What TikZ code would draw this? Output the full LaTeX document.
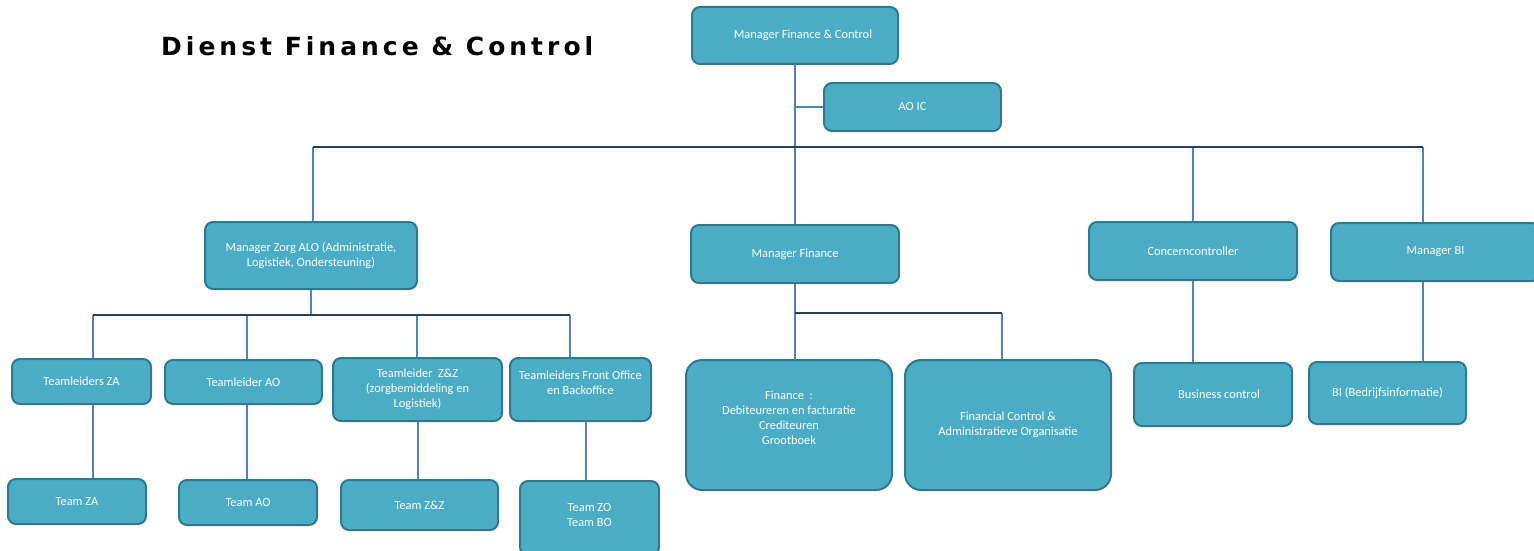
\documentclass[tikz,border=0pt]{standalone}
\usepackage{fontspec}
\setmainfont{Carlito}
\newfontfamily\titlefont[LetterSpace=16]{DejaVu Sans}
\definecolor{boxfill}{HTML}{4BACC6}
\definecolor{boxline}{HTML}{31798D}
\definecolor{vline}{HTML}{4F81BD}
\definecolor{hline}{HTML}{243F60}
\begin{document}
\begin{tikzpicture}[x=1pt,y=-1pt,
  box/.style={draw=boxline, line width=2pt, fill=boxfill, rounded corners=8pt,
    text=white, align=center, inner sep=0pt, font=\fontsize{12.4}{15}\selectfont},
  bigbox/.style={box, rounded corners=16pt},
  txt/.style={align=center, text=white, inner sep=0pt, font=\fontsize{12.4}{15}\selectfont},
  vl/.style={draw=vline, line width=2.2pt},
  hl/.style={draw=hline, line width=2.4pt}]
\useasboundingbox (0,0) rectangle (1534,551);
% title
\node[anchor=base west, inner sep=0pt, font=\titlefont\bfseries\fontsize{25}{29}\selectfont] (title) at (161,56) {Dienst Finance \& Control};
% nodes
\node[box, minimum width=206pt, minimum height=57pt] (mfc) at (795,35.5) {};
\node[txt] (mfct) at (803,35.5) {Manager Finance \& Control};
\node[box, minimum width=177pt, minimum height=48pt] (aoic) at (912.5,107) {AO IC};
\node[box, minimum width=212pt, minimum height=67pt] (zorg) at (311,255.5) {Manager Zorg ALO (Administratie,\\Logistiek, Ondersteuning)};
\node[box, minimum width=208pt, minimum height=58pt] (mf) at (795,254) {Manager Finance};
\node[box, minimum width=208pt, minimum height=58pt] (cc) at (1193,251) {Concerncontroller};
\node[box, minimum width=209pt, minimum height=58pt] (mbi) at (1435.5,252) {Manager BI};
\node[box, minimum width=139pt, minimum height=45pt] (tza) at (81.5,381.5) {Teamleiders ZA};
\node[box, minimum width=157pt, minimum height=44pt] (tao) at (243.5,382) {Teamleider AO};
\node[box, minimum width=169pt, minimum height=63pt] (tzz) at (417.5,389.5) {Teamleider \ Z\&Z\\(zorgbemiddeling en\\Logistiek)};
\node[box, minimum width=141pt, minimum height=63pt] (tfo) at (580.5,389.5) {};
\node[txt] (tfot) at (580.5,383) {Teamleiders Front Office\\en Backoffice};
\node[box, minimum width=138pt, minimum height=45pt] (teza) at (77,501.5) {Team ZA};
\node[box, minimum width=138pt, minimum height=45pt] (teao) at (248,502.5) {Team AO};
\node[box, minimum width=157pt, minimum height=50pt] (tezz) at (419.5,505) {Team Z\&Z};
\node[box, minimum width=139pt, minimum height=74pt] (tezo) at (589.5,518) {};
\node[txt] (tezot) at (589.5,515) {Team ZO\\Team BO};
\node[bigbox, minimum width=206pt, minimum height=130pt] (fin) at (789,425) {};
\node[txt] (fint) at (789,418) {Finance \ :\\Debiteureren en facturatie\\Crediteuren\\Grootboek};
\node[bigbox, minimum width=206pt, minimum height=130pt] (fca) at (1008,425) {Financial Control \&\\Administratieve Organisatie};
\node[box, minimum width=158pt, minimum height=63pt] (bc) at (1213,394.5) {};
\node[txt] (bct) at (1219,394.5) {Business control};
\node[box, minimum width=157pt, minimum height=62pt] (bi) at (1387.5,393) {BI (Bedrijfsinformatie)};
% coordinates
\coordinate (busL) at (313,147);
\coordinate (busR) at (1423,147);
\coordinate (b2L) at (93,315);
\coordinate (b2R) at (570,315);
\coordinate (b3R) at (1002,313);
% top level
\draw[vl] (mfc.south) -- (mf.north);
\draw[vl] (aoic.west) -- (aoic.west -| mfc.south);
\draw[vl] (busL) -- (busL |- zorg.north);
\draw[vl] (cc.north |- busR) -- (cc.north);
\draw[vl] (busR) -- (busR |- mbi.north);
\draw[hl] (busL) -- (busR);
% zorg branch
\draw[vl] (zorg.south) -- (zorg.south |- b2L);
\draw[vl] (b2L) -- (b2L |- tza.north);
\draw[vl] (247,315) -- (247,0 |- tao.north);
\draw[vl] (417,315) -- (417,0 |- tzz.north);
\draw[vl] (b2R) -- (b2R |- tfo.north);
\draw[hl] (b2L) -- (b2R);
\draw[vl] (93,0 |- tza.south) -- (93,0 |- teza.north);
\draw[vl] (247,0 |- tao.south) -- (247,0 |- teao.north);
\draw[vl] (418,0 |- tzz.south) -- (418,0 |- tezz.north);
\draw[vl] (586,0 |- tfo.south) -- (586,0 |- tezo.north);
% finance branch
\draw[vl] (mf.south) -- (fin.north -| mf.south);
\draw[vl] (b3R) -- (b3R |- fca.north);
\draw[hl] (mf.south |- b3R) -- (b3R);
% controller and BI
\draw[vl] (cc.south) -- (cc.south |- bc.north);
\draw[vl] (mbi.south -| busR) -- (bi.north -| busR);
\end{tikzpicture}
\end{document}
